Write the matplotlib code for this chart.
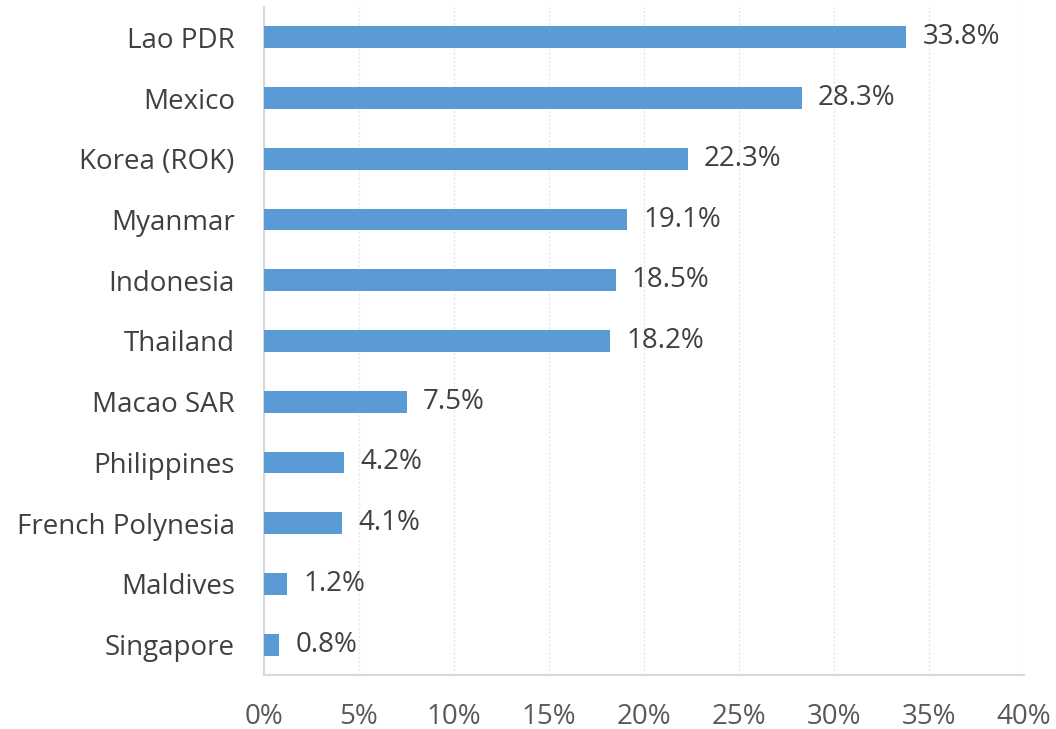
import matplotlib
matplotlib.use("Agg")
import matplotlib.pyplot as plt
from matplotlib.ticker import FuncFormatter, MultipleLocator

countries = ["Lao PDR", "Mexico", "Korea (ROK)", "Myanmar", "Indonesia", "Thailand",
             "Macao SAR", "Philippines", "French Polynesia", "Maldives", "Singapore"]
shares = [33.8, 28.3, 22.3, 19.1, 18.5, 18.2, 7.5, 4.2, 4.1, 1.2, 0.8]

text_color = "#404040"
tick_color = "#595959"
bar_color = "#5B9BD5"
grid_color = "#E6E6E6"
axis_color = "#D9D9D9"

plt.rcParams["font.family"] = ["Open Sans", "DejaVu Sans"]

fig = plt.figure(figsize=(10.56, 7.29), dpi=100)
ax = fig.add_axes([0.25, 0.0741, 0.7197, 0.9163])

ypos = list(range(len(countries)))
ax.barh(ypos, shares, height=0.36, color=bar_color, zorder=3)
for y, v in zip(ypos, shares):
    ax.text(v + 0.85, y, f"{v:.1f}%", va="center", ha="left",
            fontsize=20, color=text_color)

ax.set_ylim(len(countries) - 0.5, -0.5)
ax.set_xlim(0, 40)
ax.set_yticks(ypos)
ax.set_yticklabels(countries, fontsize=20, color=text_color)
ax.xaxis.set_major_locator(MultipleLocator(5))
ax.xaxis.set_major_formatter(FuncFormatter(lambda v, p: f"{v:.0f}%"))
ax.tick_params(axis="x", labelsize=20, labelcolor=tick_color, length=0, pad=20)
ax.tick_params(axis="y", length=0, pad=21)

ax.grid(axis="x", color=grid_color, linestyle=(0, (1.5, 1.5)), linewidth=1, zorder=0)
for s in ["top", "right"]:
    ax.spines[s].set_visible(False)
ax.spines["left"].set_color(axis_color)
ax.spines["left"].set_linewidth(1.5)
ax.spines["bottom"].set_color(axis_color)
ax.spines["bottom"].set_linewidth(1.5)

fig.savefig("out.png", dpi=100)
